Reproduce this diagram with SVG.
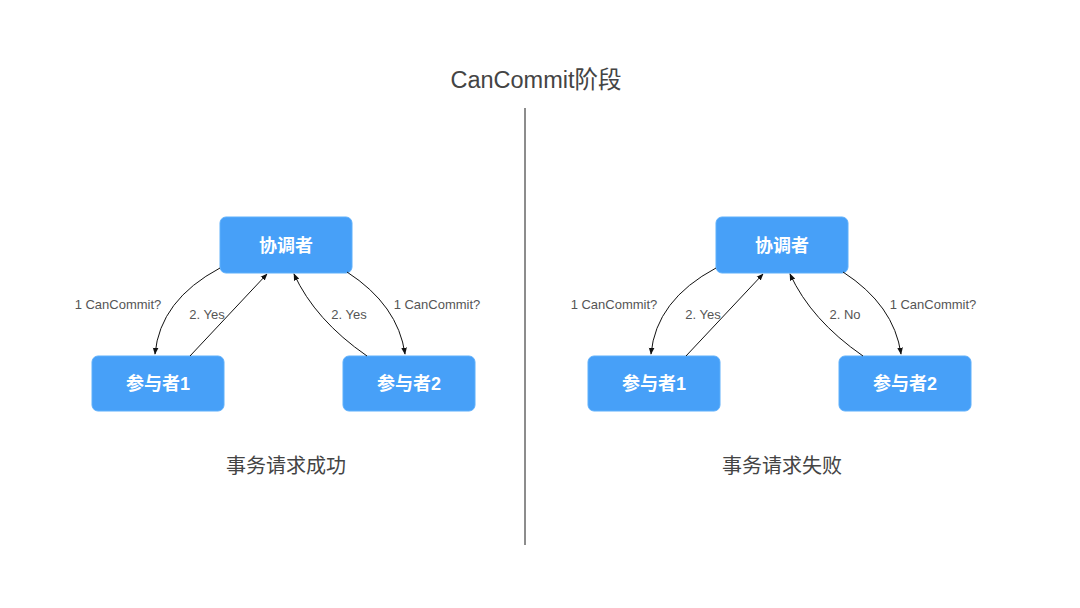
<svg xmlns="http://www.w3.org/2000/svg" width="1080" height="608" viewBox="0 0 1080 608">
<defs>
<marker id="ah" viewBox="0 0 10 10" refX="9" refY="5" markerWidth="7" markerHeight="7" orient="auto" markerUnits="userSpaceOnUse">
<path d="M0,1 L10,5 L0,9 Z" fill="#111"/>
</marker>
<style>
.node rect{fill:#47a0f8;stroke:#5fb0fb;stroke-width:1}
.node text{fill:#fff;font-family:"Liberation Sans","Noto Sans CJK SC",sans-serif;font-weight:bold;font-size:18px;text-anchor:middle}
.conn path{fill:none;stroke:#111;stroke-width:1;marker-end:url(#ah)}
.lbl{fill:#555;font-family:"Liberation Sans","Noto Sans CJK SC",sans-serif;font-size:13px;text-anchor:middle}
.cap{fill:#444;font-family:"Liberation Sans","Noto Sans CJK SC",sans-serif;font-size:20px;text-anchor:middle}
</style>
</defs>
<rect width="1080" height="608" fill="#fff"/>
<text x="536" y="88" class="cap" style="font-size:23.5px">CanCommit阶段</text>
<line x1="525" y1="108" x2="525" y2="545" stroke="#1a1a1a" stroke-width="1"/>

<g id="left-coordinator" class="node"><rect x="220" y="217" width="132" height="56" rx="6"/><text x="286" y="252">协调者</text></g>
<g id="left-participant1" class="node"><rect x="92" y="356" width="132" height="55" rx="6"/><text x="158" y="390">参与者1</text></g>
<g id="left-participant2" class="node"><rect x="343" y="356" width="132" height="55" rx="6"/><text x="409" y="390">参与者2</text></g>

<g id="right-coordinator" class="node"><rect x="716" y="217" width="132" height="56" rx="6"/><text x="782" y="252">协调者</text></g>
<g id="right-participant1" class="node"><rect x="588" y="356" width="132" height="55" rx="6"/><text x="654" y="390">参与者1</text></g>
<g id="right-participant2" class="node"><rect x="839" y="356" width="132" height="55" rx="6"/><text x="905" y="390">参与者2</text></g>

<g id="connectors" class="conn">
<path d="M220,268 Q160,300 155,354"/>
<path d="M190,356 L267,274"/>
<path d="M367,356 Q315,320 294,274"/>
<path d="M347,272 Q398,305 405,354"/>
<path d="M716,268 Q656,300 651,354"/>
<path d="M686,356 L763,274"/>
<path d="M863,356 Q811,320 790,274"/>
<path d="M843,272 Q894,305 901,354"/>
</g>

<g id="labels">
<text class="lbl" x="118" y="309">1 CanCommit?</text>
<text class="lbl" x="207" y="319">2. Yes</text>
<text class="lbl" x="349" y="319">2. Yes</text>
<text class="lbl" x="437" y="309">1 CanCommit?</text>
<text class="lbl" x="614" y="309">1 CanCommit?</text>
<text class="lbl" x="703" y="319">2. Yes</text>
<text class="lbl" x="845" y="319">2. No</text>
<text class="lbl" x="933" y="309">1 CanCommit?</text>
</g>

<text class="cap" x="286" y="473">事务请求成功</text>
<text class="cap" x="782" y="473">事务请求失败</text>
</svg>
